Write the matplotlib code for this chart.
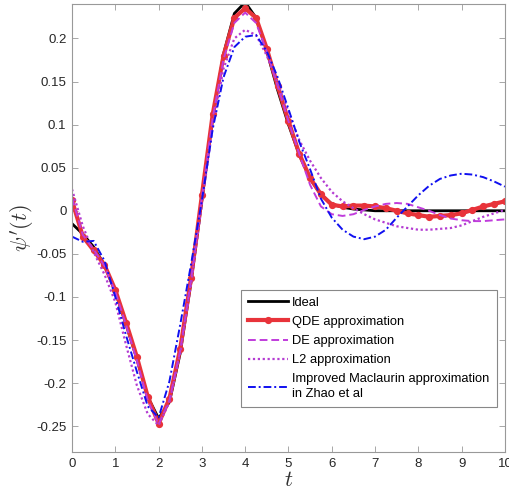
import numpy as np
import matplotlib
matplotlib.use('Agg')
import matplotlib.pyplot as plt

plt.rcParams['font.family'] = ['Liberation Sans', 'DejaVu Sans']
plt.rcParams['mathtext.fontset'] = 'cm'

# time axis, 0.25 step
t = np.arange(0, 10.001, 0.25)

ideal = [-0.015, -0.027, -0.042, -0.063, -0.094, -0.132, -0.172, -0.216, -0.241, -0.222,
         -0.165, -0.082, 0.012, 0.108, 0.182, 0.229, 0.242, 0.224, 0.185, 0.140,
         0.100, 0.065, 0.037, 0.019, 0.008, 0.004, 0.002, 0.001, 0.0, 0.0,
         0.0, 0.0, 0.0, 0.0, 0.0, 0.0, 0.0, 0.0, 0.0, 0.0, 0.0]

qde = [0.012, -0.030, -0.046, -0.063, -0.092, -0.130, -0.170, -0.216, -0.247, -0.218,
       -0.160, -0.078, 0.018, 0.112, 0.180, 0.224, 0.235, 0.224, 0.188, 0.145,
       0.104, 0.066, 0.038, 0.019, 0.007, 0.005, 0.006, 0.006, 0.005, 0.003,
       0.000, -0.003, -0.005, -0.007, -0.006, -0.005, -0.003, 0.001, 0.005, 0.008, 0.011]

de = [0.015, -0.028, -0.045, -0.064, -0.094, -0.133, -0.174, -0.220, -0.248, -0.220,
      -0.162, -0.080, 0.016, 0.108, 0.176, 0.218, 0.230, 0.218, 0.185, 0.145,
      0.104, 0.066, 0.030, 0.005, -0.004, -0.006, -0.004, 0.001, 0.005, 0.008,
      0.009, 0.008, 0.004, 0.000, -0.005, -0.009, -0.011, -0.012, -0.012, -0.011, -0.010]

l2 = [0.025, -0.018, -0.048, -0.074, -0.106, -0.156, -0.203, -0.236, -0.249, -0.222,
      -0.165, -0.085, 0.008, 0.098, 0.165, 0.200, 0.210, 0.204, 0.180, 0.148,
      0.115, 0.082, 0.058, 0.038, 0.022, 0.011, 0.003, -0.004, -0.010, -0.014,
      -0.018, -0.020, -0.022, -0.022, -0.021, -0.020, -0.017, -0.012, -0.007, -0.003, 0.001]

maclaurin = [-0.030, -0.036, -0.035, -0.058, -0.100, -0.145, -0.187, -0.227, -0.240, -0.198,
             -0.132, -0.062, 0.012, 0.095, 0.155, 0.190, 0.202, 0.204, 0.185, 0.155,
             0.118, 0.080, 0.048, 0.014, -0.008, -0.022, -0.030, -0.033, -0.030, -0.022,
             -0.008, 0.005, 0.018, 0.029, 0.037, 0.041, 0.043, 0.042, 0.039, 0.034, 0.028]

yticks = [-0.25, -0.2, -0.15, -0.1, -0.05, 0, 0.05, 0.1, 0.15, 0.2]
ytick_labels = ['-0.25', '-0.2', '-0.15', '-0.1', '-0.05', '0', '0.05', '0.1', '0.15', '0.2']
xticks = list(range(0, 11))

fig = plt.figure(figsize=(5.09, 4.97), dpi=100)
ax = fig.add_axes([0.1415, 0.0905, 0.8505, 0.9015])

ax.plot(t, ideal, color='black', lw=2.0, label='Ideal')
ax.plot(t, qde, color='#e8333a', lw=3.0, marker='o', ms=4.2, label='QDE approximation')
ax.plot(t, de, color='#c03cdc', lw=1.4, ls=(0, (4, 2)), label='DE approximation')
ax.plot(t, l2, color='#b43cd2', lw=1.6, ls=(0, (1, 1.2)), label='L2 approximation')
ax.plot(t, maclaurin, color='#1010f0', lw=1.4, ls=(0, (4, 1.5, 1, 1.5)),
        label='Improved Maclaurin approximation\nin Zhao et al')

ax.set_xlim(0, 10)
ax.set_ylim(-0.28, 0.24)
ax.set_xticks(xticks)
ax.set_yticks(yticks)
ax.set_yticklabels(ytick_labels)
ax.tick_params(direction='in', length=4, width=0.6, top=True, right=True,
               labelsize=9.5, colors='#262626', pad=4)
ax.tick_params(axis='both', color='#999999')
for s in ax.spines.values():
    s.set_color('#999999')
    s.set_linewidth(0.8)

ax.set_xlabel(r'$t$', fontsize=16, labelpad=0, color='#333333')
ax.set_ylabel(r"$\psi'(t)$", fontsize=16, labelpad=0, color='#333333')

leg = ax.legend(loc='lower right', bbox_to_anchor=(0.981, 0.100), borderaxespad=0,
                fontsize=9.3, handlelength=3.1, numpoints=1, fancybox=False,
                framealpha=1, borderpad=0.55, labelspacing=0.55, handletextpad=0.3)
for txt in leg.get_texts():
    txt.set_linespacing(1.3)
leg.get_frame().set_edgecolor('#888888')
leg.get_frame().set_linewidth(0.8)

fig.savefig('out.png', dpi=100)
